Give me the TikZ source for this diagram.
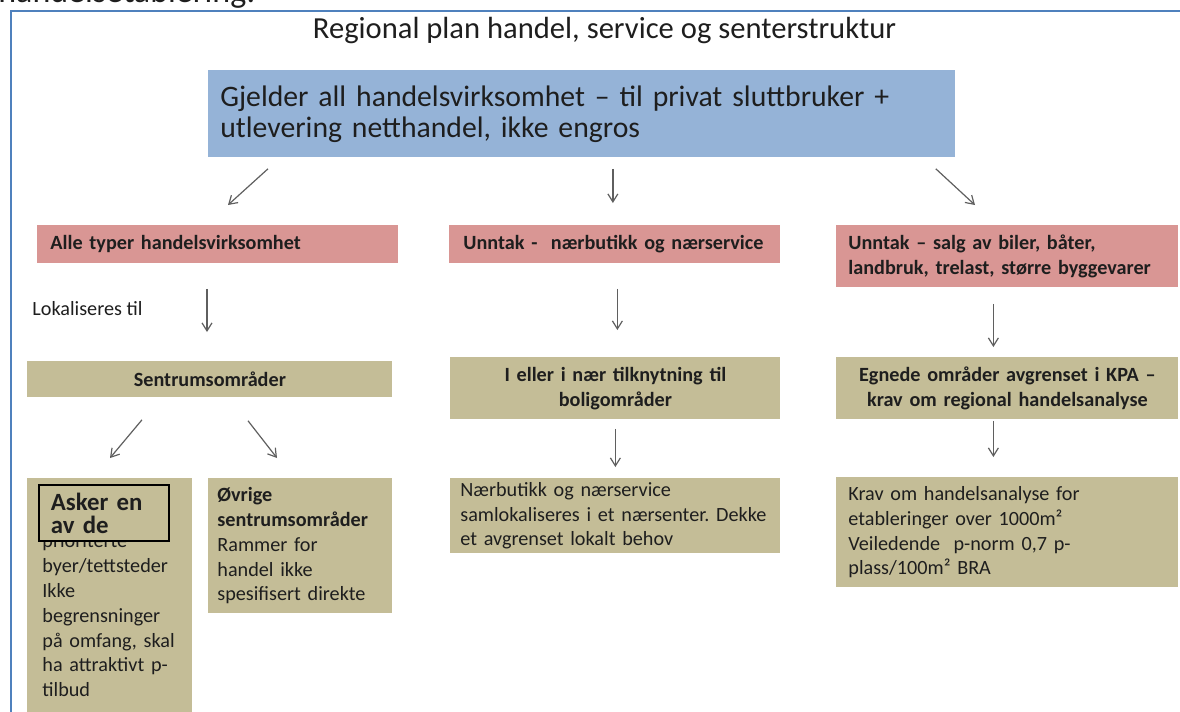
\documentclass[tikz,border=0pt]{standalone}
\usepackage{fontspec}
\setmainfont{Carlito}
\usepackage{xcolor}
\usepackage{tikz}
\usetikzlibrary{
  arrows.meta,
  calc
}

\definecolor{rammeblaa}{RGB}{79,129,189}
\definecolor{boksblaa}{RGB}{149,179,215}
\definecolor{boksrosa}{RGB}{217,150,148}
\definecolor{bokskhaki}{RGB}{196,189,151}
\definecolor{pilgraa}{RGB}{95,95,95}
\definecolor{tekst}{RGB}{30,30,30}
\newcommand{\litenskrift}{\fontsize{10.1}{12.4}\selectfont}
\newcommand{\storskrift}{\fontsize{15.3}{15}\selectfont}
\frenchspacing

\begin{document}
\begin{tikzpicture}[% 1 enhet = 1 piksel, y nedover
          x=0.5pt,y=-0.5pt,
          felt/.style 2 args={
              anchor=north west,
              inner ysep=0pt,
              inner xsep=#1,
              text width=#2,
              align=left,
              text=tekst
            },rosa/.style={
              fill=boksrosa,
              font=\bfseries\litenskrift
            },khaki/.style={
              fill=bokskhaki,
              font=\litenskrift
            },pil/.style={
              draw=pilgraa,
              line width=0.6pt,
              -{Straight Barb[length=4pt,width=5pt]}
            },ramme/.style={
              draw=rammeblaa,
              line width=1pt
            }
        ]
        \useasboundingbox (0,0) rectangle (1180,712);

        % ramme og overskrifter
        \node[anchor=base west, inner sep=0pt, text=tekst,
          font=\fontsize{17}{17}\selectfont] (forrige) at (-2,3) {handelsetablering:};
        \draw[ramme] (11,712) -- (11,11) -- (1180,11);
        \node[anchor=base, inner sep=0pt, text=tekst, font=\storskrift]
          (tittel) at (604.5,39) {Regional plan handel, service og senterstruktur};

        % blå boks
        \node[felt={6pt}{361.5pt}, fill=boksblaa,
          font=\fontsize{14.85}{15.5}\selectfont,
          minimum height=43.5pt] (gjelder) at (208,70)
          {Gjelder all handelsvirksomhet – til privat sluttbruker +\\
           utlevering netthandel, ikke engros};

        % røde bokser
        \node[felt={6.5pt}{167.5pt}, rosa, minimum height=19pt] (alle) at (37,225)
          {Alle typer handelsvirksomhet};
        \node[felt={7pt}{151.5pt}, rosa, minimum height=19pt] (unntakA) at (449,225)
          {Unntak -\ \ nærbutikk og nærservice};
        \node[felt={6pt}{159pt}, rosa, minimum height=31pt] (unntakB) at (836,225)
          {Unntak – salg av biler, båter,\\
           landbruk, trelast, større byggevarer};

        \node[anchor=base west, inner sep=0pt, text=tekst, font=\litenskrift]
          (lokal) at (32,315) {Lokaliseres til};

        % venstre kolonne
        \node[felt={5pt}{172.5pt}, khaki, font=\bfseries\litenskrift, align=center,
          minimum height=18pt] (sentrum) at (27,361) {Sentrumsområder};
        \node[felt={7.5pt}{67.5pt}, khaki, minimum height=137pt] (asker) at (27,478)
          {prioriterte\\ byer/tettsteder\\ Ikke\\ begrensninger\\
           på omfang, skal\\ ha attraktivt p-\\ tilbud};
        \node[felt={6pt}{53pt}, khaki, draw=black, line width=0.9pt,
          font=\bfseries\fontsize{12.4}{11.5}\selectfont,
          minimum height=28pt] (askerinner) at (38,484) {Asker en\\ av de};
        \node[felt={4.5pt}{83pt}, khaki, minimum height=67.5pt] (ovrige) at (208,478)
          {\textbf{Øvrige}\\ \textbf{sentrumsområder}\\ Rammer for\\
           handel ikke\\ spesifisert direkte};

        % midtre kolonne
        \node[felt={5pt}{155pt}, khaki, font=\bfseries\litenskrift, align=center,
          minimum height=31pt] (bolig) at (450,357)
          {I eller i nær tilknytning til\\ boligområder};
        \node[felt={3.5pt}{158pt}, khaki, minimum height=37.5pt] (naer) at (450,478)
          {\hspace*{1.5pt}Nærbutikk og nærservice\\
           \hspace*{1.5pt}samlokaliseres i et nærsenter. Dekke\\
           \hspace*{1.5pt}et avgrenset lokalt behov};

        % høyre kolonne
        \node[felt={5pt}{161pt}, khaki, font=\bfseries\litenskrift, align=center,
          minimum height=31pt] (egnede) at (836,357)
          {Egnede områder avgrenset i KPA –\\ krav om regional handelsanalyse};
        \node[felt={6pt}{159pt}, khaki, minimum height=55pt] (krav) at (836,477)
          {Krav om handelsanalyse for\\
           etableringer over 1000m²\\
           Veiledende\ \ p-norm 0,7 p-\\
           plass/100m² BRA};

        % piler
        \draw[pil] ($(gjelder.south west)+(60,11)$) -- ($(alle.north west)+(191,-20)$);
        \draw[pil] ($(gjelder.south)+(31,11)$) -- ($(unntakA.north)+(-2,-22)$);
        \draw[pil] ($(gjelder.south east)+(-20,11)$) -- ($(unntakB.north west)+(139,-20)$);

        \draw[pil] ($(alle.south west)+(170,25)$) -- ($(sentrum.north west)+(180,-29)$);
        \draw[pil] ($(sentrum.south west)+(115,22)$) -- ($(asker.north west)+(83,-20)$);
        \draw[pil] ($(sentrum.south west)+(221,23)$) -- ($(ovrige.north west)+(69,-20)$);

        \draw[pil] ($(unntakA.south)+(2.5,25)$) -- ($(bolig.north)+(2,-27)$);
        \draw[pil] ($(bolig.south)+(0,9)$) -- ($(naer.north)+(0,-11)$);

        \draw[pil] ($(unntakB.south)+(-14,16)$) -- ($(egnede.north)+(-14,-10)$);
        \draw[pil] ($(egnede.south)+(-14,1)$) -- ($(krav.north)+(-14,-20)$);
      \end{tikzpicture}
\end{document}
